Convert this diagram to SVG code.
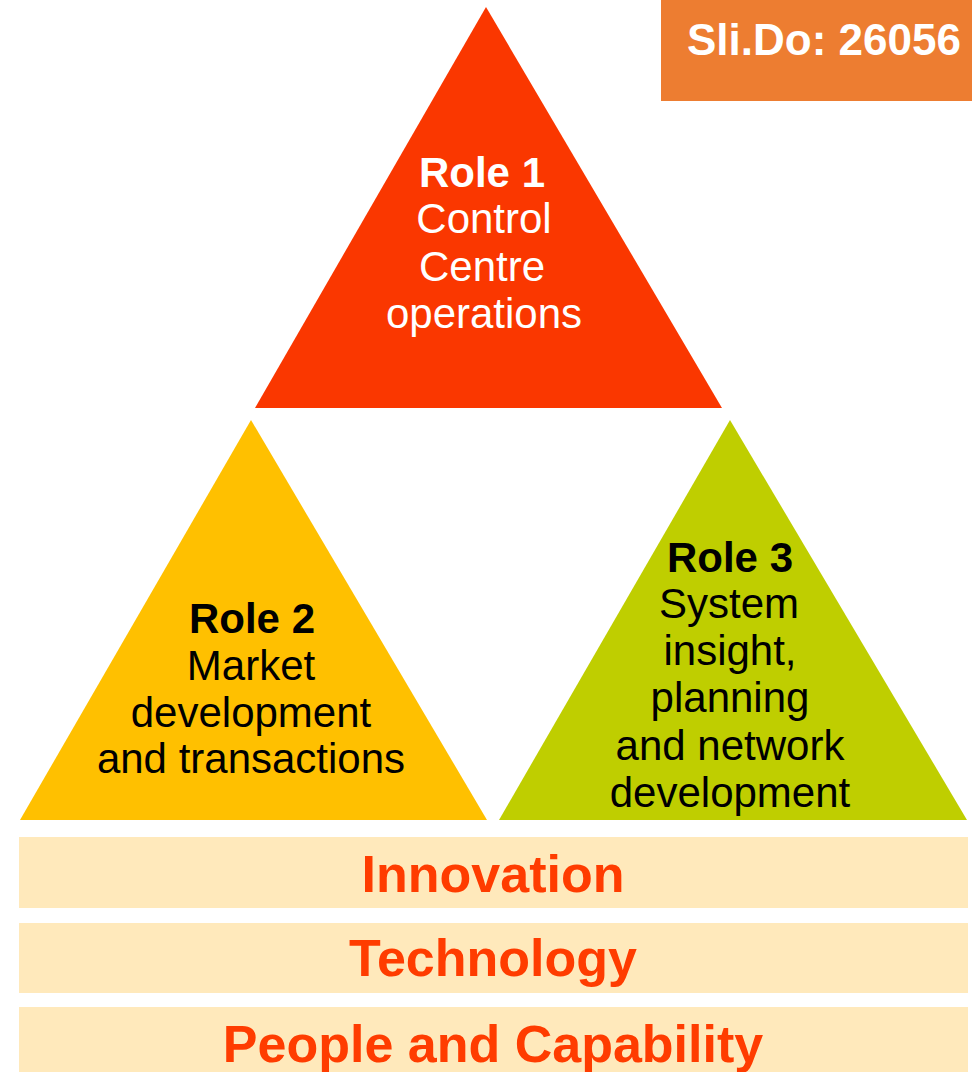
<svg xmlns="http://www.w3.org/2000/svg" width="972" height="1072" viewBox="0 0 972 1072">
<style>
.t{font-family:"Liberation Sans",Arial,Helvetica,sans-serif;text-anchor:middle}
.role{font-size:42px}
.b{font-weight:bold}
.bar{fill:#FFE9BB}
.bartxt{font-size:52px;font-weight:bold;fill:#FF3C00}
</style>
<rect width="972" height="1072" fill="#FFFFFF"/>
<g id="role1">
<polygon points="486,7 255,408 722,408" fill="#FA3700"/>
<text class="t role" fill="#FFFFFF"><tspan class="b" x="482" y="187">Role 1</tspan><tspan x="484" y="233">Control</tspan><tspan x="482" y="281">Centre</tspan><tspan x="484" y="328">operations</tspan></text>
</g>
<g id="role2">
<polygon points="251,420 20,820 487,820" fill="#FFC000"/>
<text class="t role" fill="#000000"><tspan class="b" x="252" y="633">Role 2</tspan><tspan x="251" y="680">Market</tspan><tspan x="251" y="727">development</tspan><tspan x="251" y="773">and transactions</tspan></text>
</g>
<g id="role3">
<polygon points="730,420 499,820 967,820" fill="#BFCE00"/>
<text class="t role" fill="#000000"><tspan class="b" x="730" y="572">Role 3</tspan><tspan x="729" y="618">System</tspan><tspan x="730" y="665">insight,</tspan><tspan x="730" y="712">planning</tspan><tspan x="730" y="760">and network</tspan><tspan x="730" y="807">development</tspan></text>
</g>
<g id="innovation">
<rect class="bar" x="19" y="837" width="949" height="71"/>
<text class="t bartxt" x="493" y="892">Innovation</text>
</g>
<g id="technology">
<rect class="bar" x="19" y="923" width="949" height="70"/>
<text class="t bartxt" x="493" y="976">Technology</text>
</g>
<g id="people">
<rect class="bar" x="19" y="1007" width="949" height="65"/>
<text class="t bartxt" x="493" y="1062">People and Capability</text>
</g>
<g id="slido">
<rect x="661" y="0" width="311" height="101" fill="#ED7D31"/>
<text class="b" x="687" y="55" font-family="'Liberation Sans',Arial,sans-serif" font-size="44" fill="#FFFFFF">Sli.Do: 26056</text>
</g>
<g id="connectors"/>
</svg>
